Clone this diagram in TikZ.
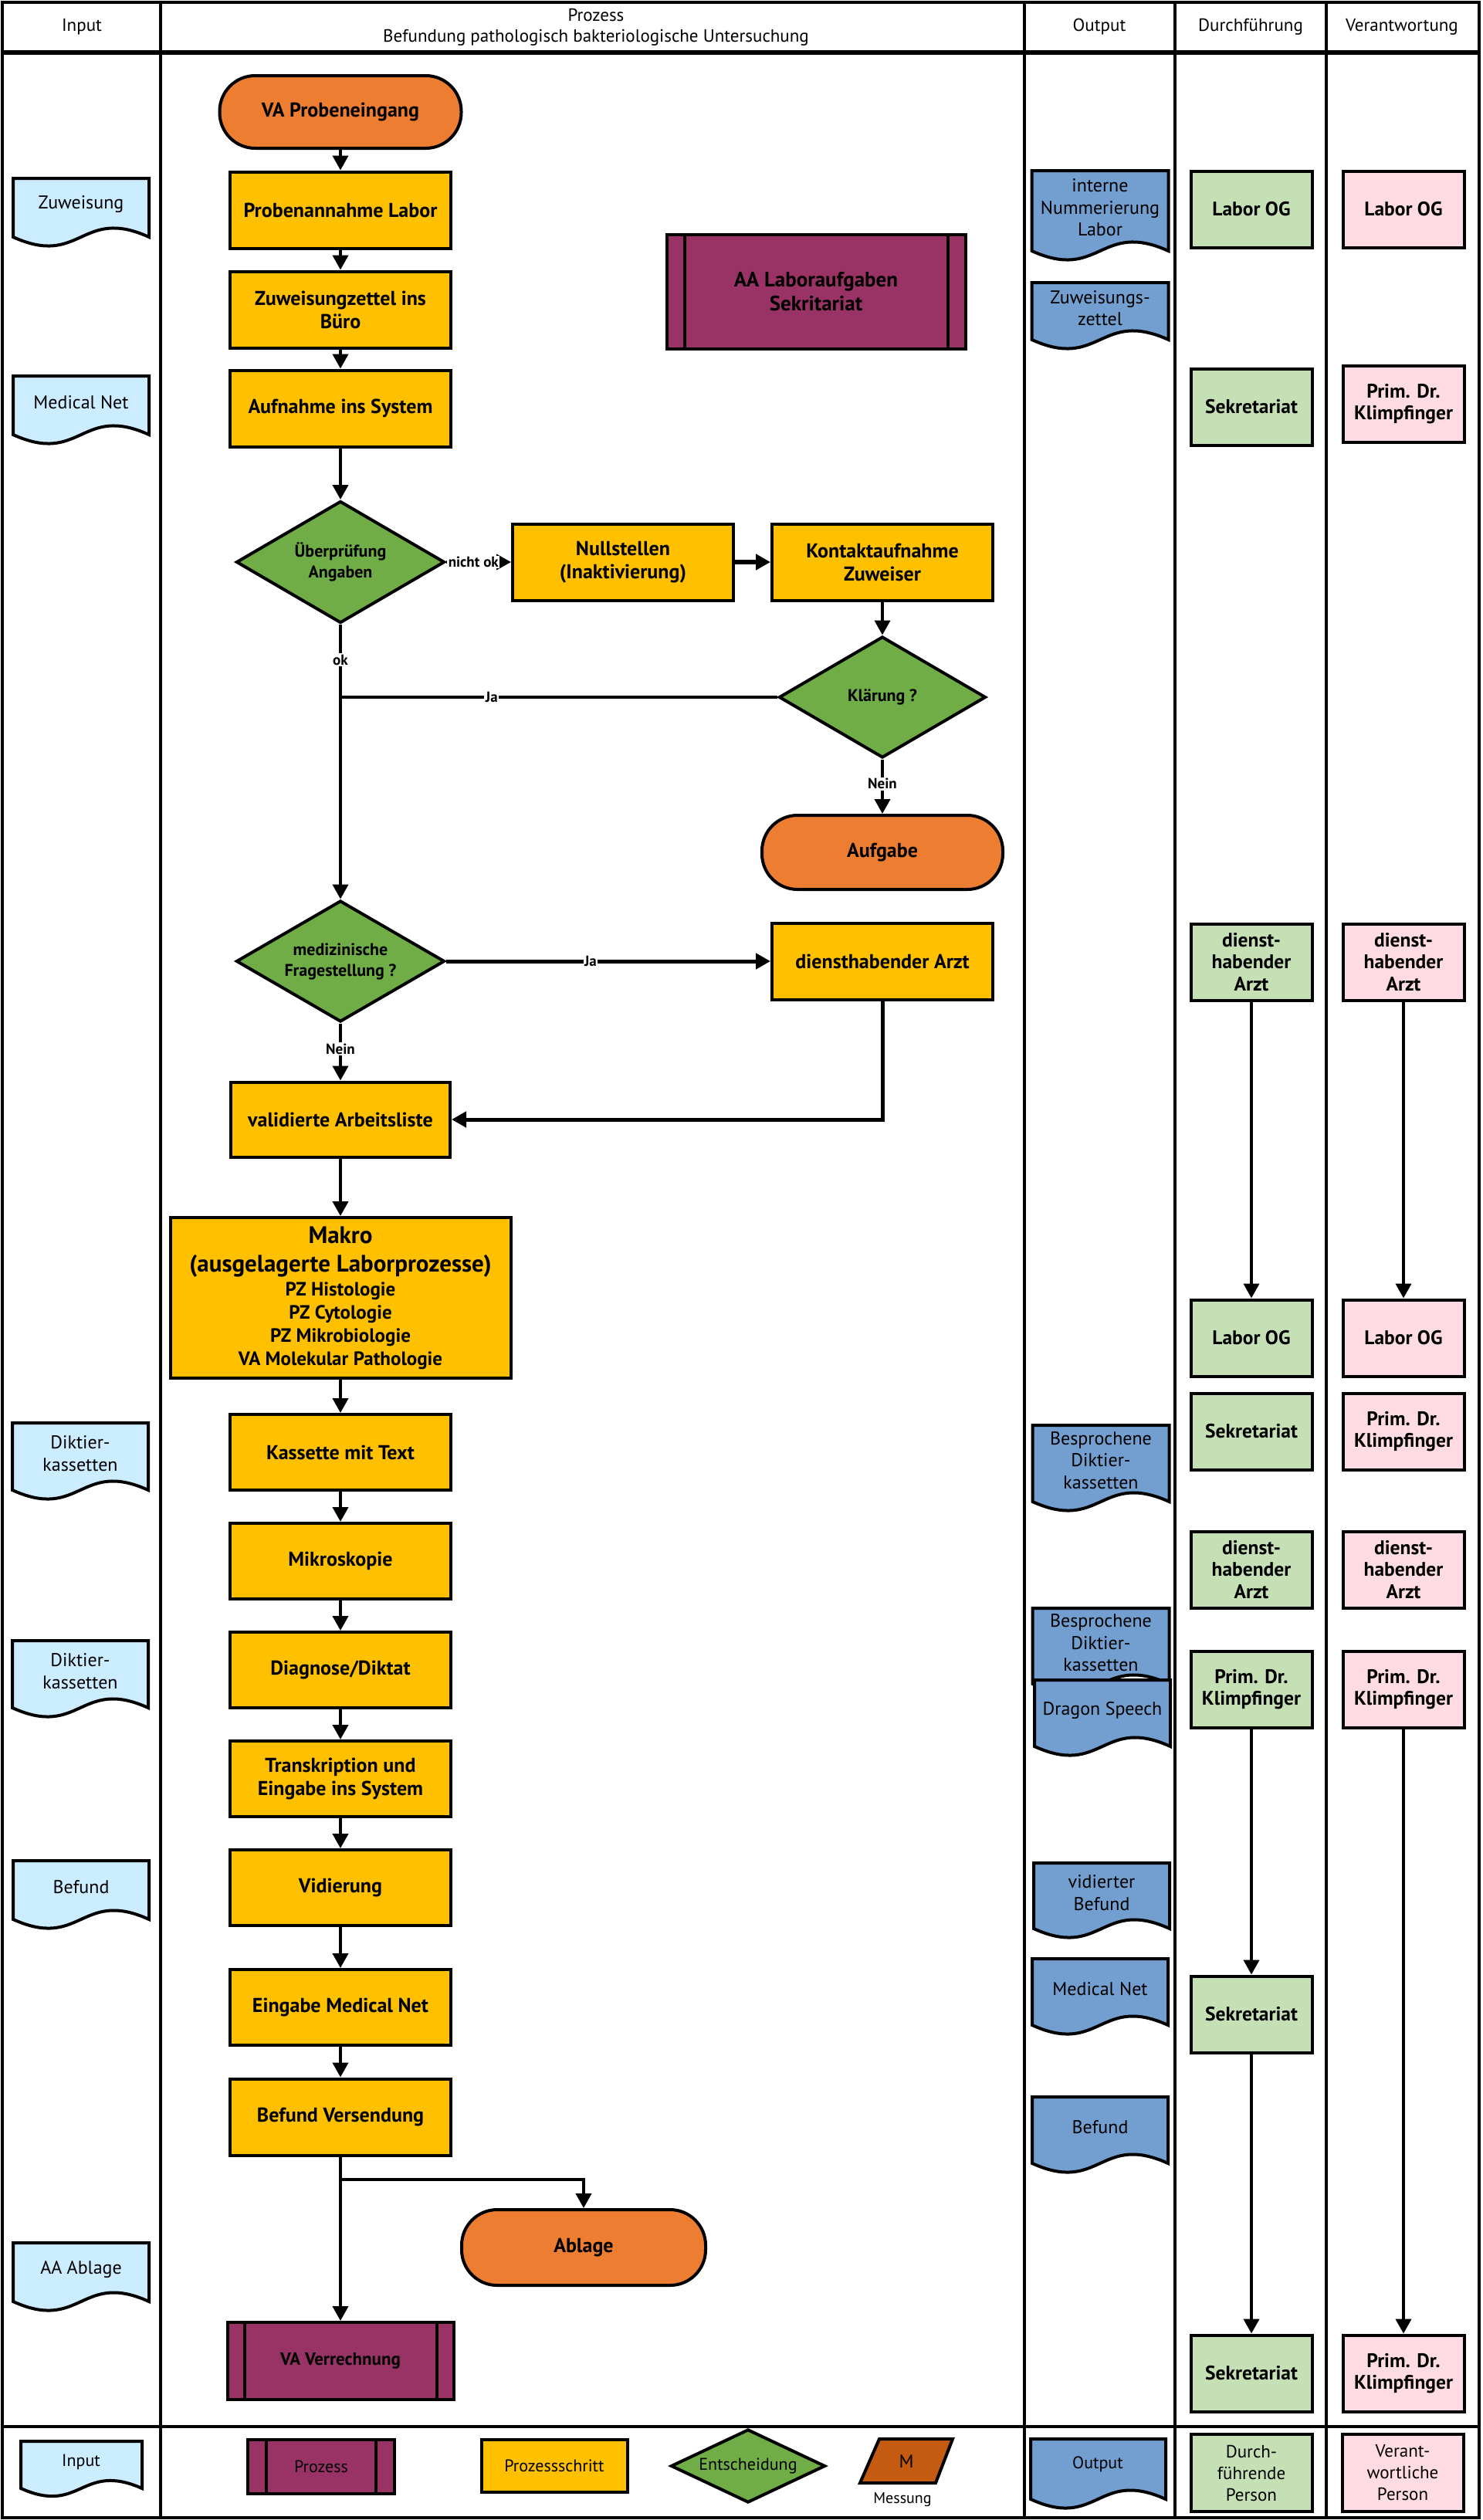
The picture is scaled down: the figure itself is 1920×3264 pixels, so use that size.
\documentclass[tikz,border=0pt]{standalone}
\usepackage{fontspec}
\setmainfont{PT Sans}
\usetikzlibrary{arrows.meta,shapes.geometric}
\definecolor{cTerm}{HTML}{ED7D31}
\definecolor{cProc}{HTML}{FFC000}
\definecolor{cDec}{HTML}{70AD47}
\definecolor{cSub}{HTML}{993366}
\definecolor{cIn}{HTML}{CCECFF}
\definecolor{cOut}{HTML}{729FCF}
\definecolor{cDo}{HTML}{C5E0B4}
\definecolor{cResp}{HTML}{FFDCE3}
\definecolor{cMess}{HTML}{C55A11}
\tikzset{
  box/.style={draw=black, line width=4pt, rectangle, align=center, inner sep=2pt, font=\fontsize{26}{30}\selectfont\bfseries},
  stepbox/.style={box, fill=cProc, minimum width=286pt, minimum height=99pt},
  termbox/.style={box, fill=cTerm, rounded corners=46pt, minimum width=313pt, minimum height=94pt},
  subbox/.style={box, fill=cSub},
  decbox/.style={draw=black, line width=4pt, diamond, aspect=1.7, fill=cDec, align=center, inner sep=0pt, minimum width=270pt, minimum height=158pt, font=\fontsize{22}{27}\selectfont\bfseries},
  dobox/.style={box, fill=cDo, minimum width=157pt, minimum height=99pt, font=\fontsize{25.5}{28.5}\selectfont\bfseries},
  respbox/.style={box, fill=cResp, minimum width=157pt, minimum height=99pt, font=\fontsize{25.5}{28.5}\selectfont\bfseries},
  doctext/.style={align=center, inner sep=0pt, font=\fontsize{24}{28.5}\selectfont},
  hdr/.style={align=center, inner sep=0pt, font=\fontsize{23}{26}\selectfont},
  arr/.style={draw=black, line width=4pt, -{Triangle[length=19pt,width=20pt]}},
  ln/.style={draw=black, line width=4pt},
  elabel/.style={fill=white, inner sep=1.5pt, font=\fontsize{19}{22}\selectfont\bfseries},
}
\newcommand\docnode[7]{%
  \path[draw=black,line width=4pt,fill=#6]
    ({#2-#4/2},{#3}) -- ({#2+#4/2},{#3}) -- ({#2+#4/2},{#3+#5})
    .. controls ({#2},{#3+#5-40}) and ({#2},{#3+#5+40}) .. ({#2-#4/2},{#3+#5}) -- cycle;
  \node[doctext] (#1) at ({#2},{#3+#5/2-4}) {#7};}
\newcommand\stripes[2]{%
  \draw[line width=4pt] ([xshift=#2pt]#1.north west) -- ([xshift=#2pt]#1.south west);
  \draw[line width=4pt] ([xshift=-#2pt]#1.north east) -- ([xshift=-#2pt]#1.south east);}
\begin{document}
\begin{tikzpicture}[x=1pt,y=-1pt]
\useasboundingbox (0,0) rectangle (1920,3264);
% lanes
\draw[line width=4pt] (3,3) rectangle (1916,3261);
\foreach \xx in {208,1327,1522,1718} \draw[line width=3.5pt] (\xx,3) -- (\xx,3261);
\draw[line width=6pt] (3,68) -- (1916,68);
\draw[line width=4pt] (3,3143) -- (1916,3143);
% header
\node[hdr] (hIn) at (106,35) {Input};
\node[hdr, font=\fontsize{23}{27}\selectfont] (hProz) at (772,35) {Prozess\\Befundung pathologisch bakteriologische Untersuchung};
\node[hdr] (hOut) at (1424,35) {Output};
\node[hdr] (hDo) at (1620,35) {Durchführung};
\node[hdr] (hResp) at (1816,35) {Verantwortung};

% main process
\node[termbox] (prob) at (441,145) {VA Probeneingang};
\node[stepbox] (pann) at (441,272) {Probenannahme Labor};
\node[stepbox] (zuw) at (441,401) {Zuweisungzettel ins\\Büro};
\node[stepbox] (aufn) at (441,529) {Aufnahme ins System};
\node[subbox, minimum width=387pt, minimum height=148pt, font=\fontsize{27}{31}\selectfont\bfseries] (aa) at (1057,378) {AA Laboraufgaben\\Sekritariat};
\stripes{aa}{25}
\node[decbox] (ue) at (441,728) {Überprüfung\\Angaben};
\node[stepbox] (null) at (807,728) {Nullstellen\\(Inaktivierung)};
\node[stepbox] (kont) at (1143,728) {Kontaktaufnahme\\Zuweiser};
\node[decbox, minimum width=268pt, minimum height=157pt] (klar) at (1143,903) {Klärung ?};
\node[termbox, minimum width=312pt, minimum height=96pt] (aufg) at (1143,1104) {Aufgabe};
\node[decbox, minimum height=157pt] (med) at (441,1245) {medizinische\\Fragestellung ?};
\node[stepbox] (darzt) at (1143,1245) {diensthabender Arzt};
\node[stepbox, minimum width=284pt, minimum height=97pt] (val) at (441,1450) {validierte Arbeitsliste};
\node[stepbox, minimum width=441pt, minimum height=208pt, font=\fontsize{25}{30}\selectfont\bfseries] (makro) at (441,1681)
  {\fontsize{31}{30}\selectfont Makro\\[7pt]\fontsize{31}{30}\selectfont (ausgelagerte Laborprozesse)\\[1pt]\fontsize{25}{30}\selectfont PZ Histologie\\PZ Cytologie\\PZ Mikrobiologie\\VA Molekular Pathologie};
\node[stepbox, minimum height=98pt] (kass) at (441,1881) {Kassette mit Text};
\node[stepbox, minimum height=98pt] (mikro) at (441,2022) {Mikroskopie};
\node[stepbox, minimum height=98pt] (diag) at (441,2163) {Diagnose/Diktat};
\node[stepbox, minimum height=98pt] (trans) at (441,2304) {Transkription und\\Eingabe ins System};
\node[stepbox, minimum height=98pt] (vid) at (441,2445) {Vidierung};
\node[stepbox, minimum height=98pt] (eing) at (441,2600) {Eingabe Medical Net};
\node[stepbox, minimum height=99pt] (bv) at (441,2742) {Befund Versendung};
\node[termbox, minimum width=316pt, minimum height=98pt] (ablage) at (756,2911) {Ablage};
\node[subbox, minimum width=293pt, minimum height=100pt, font=\fontsize{23}{27}\selectfont\bfseries] (vaverr) at (441,3058) {VA Verrechnung};
\stripes{vaverr}{24}

% connectors main
\draw[arr] (prob.south) -- (pann.north);
\draw[arr] (pann.south) -- (zuw.north);
\draw[arr] (zuw.south) -- (aufn.north);
\draw[arr] (aufn.south) -- (ue.north);
\draw[arr] (ue.east) -- node[elabel,pos=0.42] (l1) {nicht ok} (null.west);
\draw[arr, line width=5.5pt] (null.east) -- (kont.west);
\draw[arr] (kont.south) -- (klar.north);
\draw[arr] (klar.south) -- node[elabel,pos=0.45] (l2) {Nein} (aufg.north);
\draw[ln] (klar.west) -- node[elabel,pos=0.654] (l3) {Ja} (klar.west -| ue.south);
\draw[arr] (ue.south) -- node[elabel,pos=0.128] (l4) {ok} (med.north);
\draw[arr, line width=5pt] (med.east) -- node[elabel,pos=0.445] (l5) {Ja} (darzt.west);
\draw[arr] (med.south) -- node[elabel,pos=0.45] (l6) {Nein} (val.north);
\draw[arr, line width=5pt] (darzt.south) |- (val.east);
\draw[arr] (val.south) -- (makro.north);
\draw[arr] (makro.south) -- (kass.north);
\draw[arr] (kass.south) -- (mikro.north);
\draw[arr] (mikro.south) -- (diag.north);
\draw[arr] (diag.south) -- (trans.north);
\draw[arr] (trans.south) -- (vid.north);
\draw[arr] (vid.south) -- (eing.north);
\draw[arr] (eing.south) -- (bv.north);
\draw[arr] (bv.south) -- (vaverr.north);
\coordinate (br) at (441,2823);
\draw[arr] (br) -| (ablage.north);

% input documents
\docnode{in1}{105}{231}{176}{76}{cIn}{Zuweisung}
\docnode{in2}{105}{487}{176}{76}{cIn}{Medical Net}
\docnode{in3}{104}{1843}{176}{87}{cIn}{Diktier-\\kassetten}
\docnode{in4}{104}{2125}{176}{87}{cIn}{Diktier-\\kassetten}
\docnode{in5}{105}{2410}{176}{76}{cIn}{Befund}
\docnode{in6}{105}{2905}{176}{76}{cIn}{AA Ablage}

% output documents
\docnode{o1}{1425}{221}{177}{104}{cOut}{interne\\Nummerierung\\Labor}
\docnode{o2}{1425}{366}{177}{74}{cOut}{Zuweisungs-\\zettel}
\docnode{o3}{1426}{1846}{177}{99}{cOut}{Besprochene\\Diktier-\\kassetten}
\docnode{o4}{1426}{2083}{177}{98}{cOut}{Besprochene\\Diktier-\\kassetten}
\docnode{o5}{1428}{2176}{176}{86}{cOut}{Dragon Speech}
\docnode{o6}{1427}{2413}{176}{85}{cOut}{vidierter\\Befund}
\docnode{o7}{1425}{2537}{176}{86}{cOut}{Medical Net}
\docnode{o8}{1425}{2716}{176}{86}{cOut}{Befund}

% Durchfuehrung
\node[dobox] (g1) at (1621,271) {Labor OG};
\node[dobox] (g2) at (1621,527) {Sekretariat};
\node[dobox] (g3) at (1621,1246) {dienst-\\habender\\Arzt};
\node[dobox] (g4) at (1621,1733) {Labor OG};
\node[dobox] (g5) at (1621,1854) {Sekretariat};
\node[dobox] (g6) at (1621,2033) {dienst-\\habender\\Arzt};
\node[dobox] (g7) at (1621,2188) {Prim. Dr.\\Klimpfinger};
\node[dobox] (g8) at (1621,2609) {Sekretariat};
\node[dobox] (g9) at (1621,3074) {Sekretariat};
% Verantwortung
\node[respbox] (p1) at (1818,271) {Labor OG};
\node[respbox] (p2) at (1818,523) {Prim. Dr.\\Klimpfinger};
\node[respbox] (p3) at (1818,1246) {dienst-\\habender\\Arzt};
\node[respbox] (p4) at (1818,1733) {Labor OG};
\node[respbox] (p5) at (1818,1854) {Prim. Dr.\\Klimpfinger};
\node[respbox] (p6) at (1818,2033) {dienst-\\habender\\Arzt};
\node[respbox] (p7) at (1818,2188) {Prim. Dr.\\Klimpfinger};
\node[respbox] (p9) at (1818,3074) {Prim. Dr.\\Klimpfinger};
\draw[arr] (g3.south) -- (g4.north);
\draw[arr] (p3.south) -- (p4.north);
\draw[arr] (g7.south) -- (g8.north);
\draw[arr] (g8.south) -- (g9.north);
\draw[arr] (p7.south) -- (p9.north);

% legend
\path[draw=black,line width=4pt,fill=cIn]
  (27,3162) -- (184,3162) -- (184,3223) .. controls (105,3188) and (105,3258) .. (27,3223) -- cycle;
\node[hdr, font=\fontsize{22}{26}\selectfont] (lgIn) at (105,3189) {Input};
\node[subbox, minimum width=190pt, minimum height=70pt, font=\fontsize{22}{26}\selectfont] (lgProz) at (416,3195) {Prozess};
\stripes{lgProz}{26}
\node[stepbox, minimum width=189pt, minimum height=68pt, font=\fontsize{22}{26}\selectfont] (lgStep) at (718,3194) {Prozessschritt};
\node[decbox, minimum width=200pt, minimum height=94pt, font=\fontsize{22}{26}\selectfont] (lgDec) at (969,3194) {Entscheidung};
\draw[line width=4pt, fill=cMess] (1139,3159) -- (1234,3159) -- (1212,3216) -- (1114,3216) -- cycle;
\node[hdr, font=\fontsize{24}{28}\selectfont] (lgM) at (1174,3188) {M};
\node[hdr, font=\fontsize{20}{24}\selectfont] (lgMess) at (1169,3238) {Messung};
\path[draw=black,line width=4pt,fill=cOut]
  (1335,3159) -- (1510,3159) -- (1510,3237) .. controls (1422,3197) and (1422,3277) .. (1335,3237) -- cycle;
\node[hdr, font=\fontsize{22}{26}\selectfont] (lgOut) at (1422,3192) {Output};
\node[dobox, minimum height=100pt, font=\fontsize{23}{28}\selectfont] (lgDo) at (1621,3203) {Durch-\\führende\\Person};
\node[respbox, minimum height=100pt, font=\fontsize{23}{28}\selectfont] (lgResp) at (1817,3203) {Verant-\\wortliche\\Person};
\end{tikzpicture}
\end{document}
